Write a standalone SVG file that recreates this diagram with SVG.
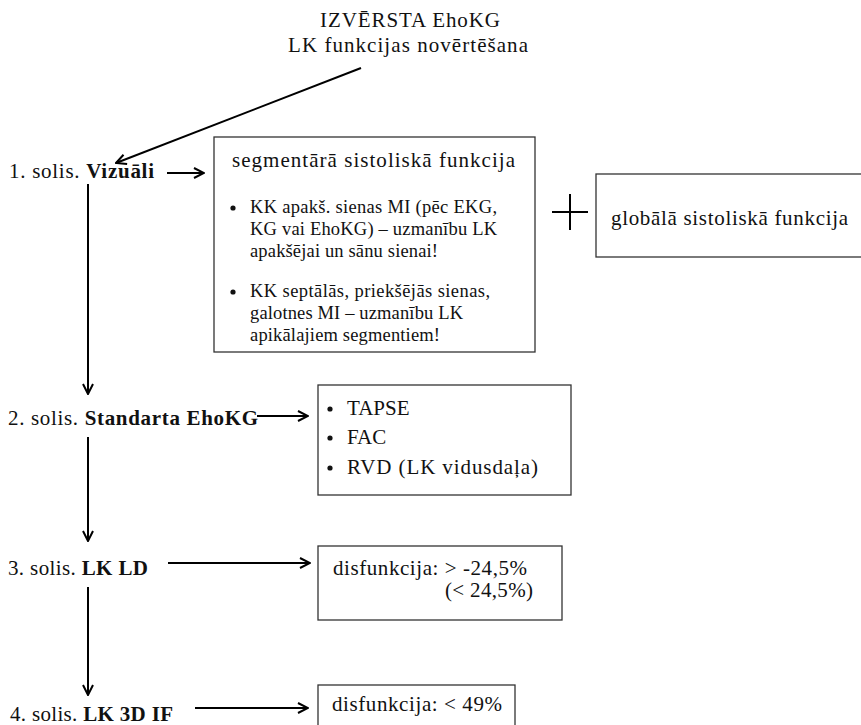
<svg xmlns="http://www.w3.org/2000/svg" width="861" height="725" viewBox="0 0 861 725">
<defs>
<style>
text{fill:#111}
.t21{font-size:21px}
.t18{font-size:18.5px}
.b{font-weight:bold}
.box{fill:#fff;stroke:#333;stroke-width:1.3}
.ln{stroke:#000;stroke-width:2;fill:none}
.dot{fill:#111}
</style>
<marker id="ah" viewBox="0 0 12 12" refX="11" refY="6" markerWidth="12" markerHeight="12" markerUnits="userSpaceOnUse" orient="auto">
<path d="M1,1 L11,6 L1,11" fill="none" stroke="#000" stroke-width="2"/>
</marker>
</defs>
<rect width="861" height="725" fill="#fff"/>
<g font-family="Liberation Serif, Times New Roman, serif">
<g id="title">
<text class="t21" x="320" y="27" textLength="180" lengthAdjust="spacing">IZVĒRSTA EhoKG</text>
<text class="t21" x="288" y="52" textLength="240" lengthAdjust="spacing">LK funkcijas novērtēšana</text>
</g>
<g id="step1">
<text class="t21" x="9" y="178" textLength="145" lengthAdjust="spacing">1. solis. <tspan class="b">Vizuāli</tspan></text>
</g>
<g id="segmental">
<rect class="box" x="214" y="137" width="321" height="215"/>
<text class="t21" x="232" y="167" textLength="283" lengthAdjust="spacing">segmentārā sistoliskā funkcija</text>
<circle class="dot" cx="233" cy="208" r="2.6"/>
<text class="t18" x="250" y="213" textLength="247" lengthAdjust="spacing">KK apakš. sienas MI (pēc EKG,</text>
<text class="t18" x="250" y="235" textLength="247" lengthAdjust="spacing">KG vai EhoKG) – uzmanību LK</text>
<text class="t18" x="250" y="257" textLength="188" lengthAdjust="spacing">apakšējai un sānu sienai!</text>
<circle class="dot" cx="233" cy="292" r="2.6"/>
<text class="t18" x="250" y="297" textLength="240" lengthAdjust="spacing">KK septālās, priekšējās sienas,</text>
<text class="t18" x="250" y="319" textLength="213" lengthAdjust="spacing">galotnes MI – uzmanību LK</text>
<text class="t18" x="250" y="341" textLength="190" lengthAdjust="spacing">apikālajiem segmentiem!</text>
</g>
<g id="plus">
<line x1="552" y1="212" x2="588" y2="212" stroke="#000" stroke-width="2"/>
<line x1="570" y1="194" x2="570" y2="230" stroke="#000" stroke-width="2"/>
</g>
<g id="global">
<rect class="box" x="596" y="174" width="270" height="83"/>
<text class="t21" x="611" y="225" textLength="237" lengthAdjust="spacing">globālā sistoliskā funkcija</text>
</g>
<g id="step2">
<text class="t21" x="8" y="425" textLength="250" lengthAdjust="spacing">2. solis. <tspan class="b">Standarta EhoKG</tspan></text>
</g>
<g id="standard">
<rect class="box" x="318" y="385" width="253" height="110"/>
<circle class="dot" cx="330" cy="409" r="2.6"/>
<text class="t21" x="347" y="415">TAPSE</text>
<circle class="dot" cx="330" cy="438" r="2.6"/>
<text class="t21" x="347" y="444">FAC</text>
<circle class="dot" cx="330" cy="468" r="2.6"/>
<text class="t21" x="347" y="474" textLength="191" lengthAdjust="spacing">RVD (LK vidusdaļa)</text>
</g>
<g id="step3">
<text class="t21" x="8" y="575" textLength="140" lengthAdjust="spacing">3. solis. <tspan class="b">LK LD</tspan></text>
</g>
<g id="ld">
<rect class="box" x="318" y="546" width="244" height="74"/>
<text class="t21" x="333" y="575" textLength="194" lengthAdjust="spacing">disfunkcija: &gt; -24,5%</text>
<text class="t21" x="445" y="597" textLength="88" lengthAdjust="spacing">(&lt; 24,5%)</text>
</g>
<g id="step4">
<text class="t21" x="10" y="721" textLength="163" lengthAdjust="spacing">4. solis. <tspan class="b">LK 3D IF</tspan></text>
</g>
<g id="if3d">
<rect class="box" x="318" y="685" width="197" height="50"/>
<text class="t21" x="332" y="711" textLength="170" lengthAdjust="spacing">disfunkcija: &lt; 49%</text>
</g>
</g>
<g id="connectors">
<line class="ln" x1="361" y1="68" x2="116" y2="163" marker-end="url(#ah)"/>
<line class="ln" x1="167" y1="173" x2="204" y2="173" marker-end="url(#ah)"/>
<line class="ln" x1="88" y1="184" x2="88" y2="394" marker-end="url(#ah)"/>
<line class="ln" x1="257" y1="416" x2="308" y2="416" marker-end="url(#ah)"/>
<line class="ln" x1="88" y1="437" x2="88" y2="541" marker-end="url(#ah)"/>
<line class="ln" x1="168" y1="563" x2="310" y2="563" marker-end="url(#ah)"/>
<line class="ln" x1="88" y1="587" x2="88" y2="695" marker-end="url(#ah)"/>
<line class="ln" x1="195" y1="708" x2="308" y2="708" marker-end="url(#ah)"/>
</g>
</svg>
